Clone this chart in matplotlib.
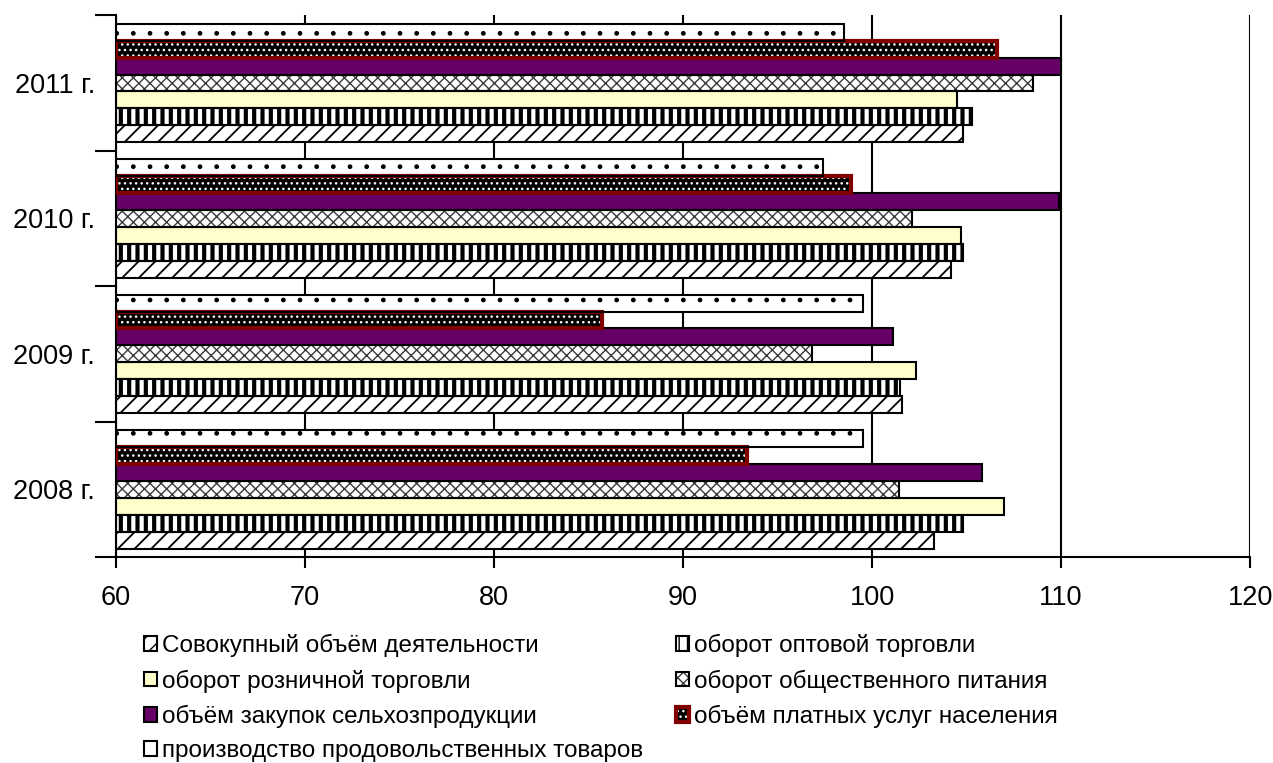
import numpy as np
import matplotlib.pyplot as plt
from matplotlib.legend_handler import HandlerTuple

plt.rcParams['font.family'] = ['Liberation Sans', 'DejaVu Sans']

# ----- данные -----
years = ["2008 г.", "2009 г.", "2010 г.", "2011 г."]
series = [
    "Совокупный объём деятельности",
    "оборот оптовой торговли",
    "оборот розничной торговли",
    "оборот общественного питания",
    "объём закупок сельхозпродукции",
    "объём платных услуг населения",
    "производство продовольственных товаров",
]
sovokupny = [103.3, 101.6, 104.2, 104.8]
optovaya = [104.8, 101.5, 104.8, 105.3]
roznichnaya = [107.0, 102.3, 104.7, 104.5]
pitanie = [101.4, 96.8, 102.1, 108.5]
zakupki = [105.8, 101.1, 109.9, 110.0]
uslugi = [93.4, 85.7, 98.9, 106.6]
proizvodstvo = [99.5, 99.5, 97.4, 98.5]
values = [sovokupny, optovaya, roznichnaya, pitanie, zakupki, uslugi, proizvodstvo]

# стиль каждого ряда: заливка, штриховка, цвет штриховки, контур, толщина контура, толщина штриховки
styles = [
    ("white", "//", "black", "black", 1.5, 1.3),
    ("white", "||", "black", "black", 1.5, 3.0),
    ("#FFFFCC", "", "black", "black", 1.5, 1.0),
    ("white", "xxx", "#3a3a3a", "black", 1.5, 1.0),
    ("#660066", "", "black", "black", 1.5, 1.0),
    ("black", "...", "white", "#800000", 3.0, 1.0),
    ("white", ".", "black", "black", 1.5, 1.0),
]

fig = plt.figure(figsize=(12.73, 7.63), dpi=100)
ax = fig.add_axes([0.0911, 0.270, 0.8909, 0.710])

y = np.arange(len(years))
h = 0.125
handles = []
for i, (vals, st) in enumerate(zip(values, styles)):
    face, hatch, hcol, ecol, elw, hlw = st
    pos = y + (i - 3) * h
    with plt.rc_context({'hatch.linewidth': hlw}):
        b1 = ax.barh(pos, np.array(vals) - 60, left=60, height=h, color=face,
                     hatch=hatch, edgecolor=hcol, linewidth=0, zorder=2)
    b2 = ax.barh(pos, np.array(vals) - 60, left=60, height=h, fill=False,
                 edgecolor=ecol, linewidth=elw, zorder=3)
    handles.append((b1, b2))

ax.set_xlim(60, 120)
ax.set_ylim(-0.5, 3.5)
ax.set_xticks(np.arange(60, 121, 10))
ax.set_yticks(y)
ax.set_yticklabels(years)
ax.set_yticks(np.arange(-0.5, 3.6, 1), minor=True)
ax.tick_params(axis='y', which='major', length=0, pad=15, labelsize=19.5)
ax.tick_params(axis='y', which='minor', length=15, width=1.5, direction='out')
ax.tick_params(axis='x', length=8, width=1.5, pad=12, labelsize=19.5)

ax.grid(axis='x', color='black', linewidth=1.5, zorder=1)
ax.set_axisbelow(True)
for s in ['top', 'right']:
    ax.spines[s].set_visible(False)
for s in ['left', 'bottom']:
    ax.spines[s].set_linewidth(1.5)

order = [0, 2, 4, 6, 1, 3, 5]
fig.legend([handles[k] for k in order], [series[k] for k in order],
           ncol=2, loc='upper left', bbox_to_anchor=(0.113, 0.169),
           frameon=False, fontsize=17.5, handlelength=0.55, handleheight=0.55,
           handletextpad=0.2, columnspacing=1.35, labelspacing=0.5,
           borderpad=0, borderaxespad=0,
           handler_map={tuple: HandlerTuple(ndivide=1, pad=0)})

fig.savefig("out.png", dpi=100)
